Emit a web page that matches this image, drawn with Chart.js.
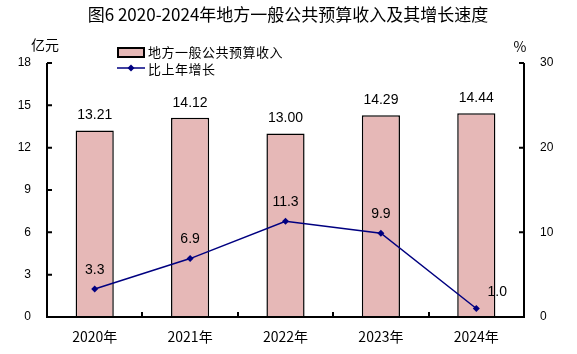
<!DOCTYPE html>
<html lang="zh">
<head>
<meta charset="UTF-8">
<title>地方一般公共预算收入</title>
<script src="https://cdn.jsdelivr.net/npm/chart.js"></script>
<style>
  html, body { margin: 0; padding: 0; background: #fff; }
  #wrap { width: 577px; height: 354px; position: relative; }
</style>
</head>
<body>
<div id="wrap"><canvas id="c" width="577" height="354"></canvas></div>
<script>
// data
const years = ['2020年', '2021年', '2022年', '2023年', '2024年'];
const revenue = [13.21, 14.12, 13.00, 14.29, 14.44];   // 亿元 (left axis)
const growth = [3.3, 6.9, 11.3, 9.9, 1.0];              // % (right axis)
const leftTicks = [0, 3, 6, 9, 12, 15, 18];
const rightTicks = [0, 10, 20, 30];

const FONT = '"Liberation Sans", Arial, sans-serif';
const CJK = '"Noto Sans CJK SC", "Liberation Sans", sans-serif';

// axis lines, inward tick marks, title, units, legend, value labels
const decor = {
  id: 'decor',
  afterDraw(chart) {
    const ctx = chart.ctx;
    const a = chart.chartArea;
    const yl = chart.scales.y, yr = chart.scales.y1;
    ctx.save();
    ctx.strokeStyle = '#000';
    ctx.lineWidth = 2;
    ctx.beginPath();
    ctx.moveTo(a.left, a.top); ctx.lineTo(a.left, a.bottom); ctx.lineTo(a.right, a.bottom); ctx.lineTo(a.right, a.top);
    leftTicks.forEach(v => { const p = yl.getPixelForValue(v); ctx.moveTo(a.left, p); ctx.lineTo(a.left + 5, p); });
    rightTicks.forEach(v => { const p = yr.getPixelForValue(v); ctx.moveTo(a.right, p); ctx.lineTo(a.right - 5, p); });
    const step = (a.right - a.left) / years.length;
    for (let i = 1; i < years.length; i++) {
      const px = Math.round(a.left + step * i);
      ctx.moveTo(px, a.bottom); ctx.lineTo(px, a.bottom - 5);
    }
    ctx.stroke();

    // title
    ctx.fillStyle = '#000';
    ctx.textAlign = 'center';
    ctx.textBaseline = 'middle';
    ctx.font = '17px ' + CJK;
    ctx.fillText('图6 2020-2024年地方一般公共预算收入及其增长速度', 288, 15);

    // units
    ctx.font = '14px ' + CJK;
    ctx.fillText('亿元', 45, 45);
    ctx.fillText('%', 520, 47);

    // legend
    const bds = chart.data.datasets[0], lds = chart.data.datasets[1];
    ctx.fillStyle = bds.backgroundColor;
    ctx.fillRect(118, 48, 26, 9);
    ctx.lineWidth = 2;
    ctx.strokeRect(118, 48, 26, 9);
    ctx.strokeStyle = lds.borderColor;
    ctx.lineWidth = 1.5;
    ctx.beginPath(); ctx.moveTo(117, 68); ctx.lineTo(145, 68); ctx.stroke();
    ctx.fillStyle = lds.borderColor;
    ctx.beginPath(); ctx.moveTo(131, 64.5); ctx.lineTo(134.5, 68); ctx.lineTo(131, 71.5); ctx.lineTo(127.5, 68); ctx.closePath(); ctx.fill();
    ctx.fillStyle = '#000';
    ctx.textAlign = 'left';
    ctx.font = '13px ' + CJK;
    if ('letterSpacing' in ctx) ctx.letterSpacing = '0.5px';
    ctx.fillText('地方一般公共预算收入', 148, 52);
    ctx.fillText('比上年增长', 148, 69);
    if ('letterSpacing' in ctx) ctx.letterSpacing = '0px';

    // value labels
    ctx.textAlign = 'center';
    ctx.font = '14px ' + FONT;
    chart.getDatasetMeta(0).data.forEach((el, i) => {
      ctx.fillText(revenue[i].toFixed(2), el.x, el.y - 15);
    });
    chart.getDatasetMeta(1).data.forEach((el, i) => {
      const dx = i === years.length - 1 ? 21 : 0;
      const dy = i === years.length - 1 ? -16 : -19;
      ctx.fillText(growth[i].toFixed(1), el.x + dx, el.y + dy);
    });
    ctx.restore();
  }
};

new Chart(document.getElementById('c'), {
  data: {
    labels: years,
    datasets: [
      {
        type: 'bar',
        label: '地方一般公共预算收入',
        data: revenue,
        yAxisID: 'y',
        backgroundColor: '#E6B8B7',
        borderColor: '#000',
        borderWidth: 1.5,
        categoryPercentage: 1,
        barPercentage: 0.4,
        order: 2
      },
      {
        type: 'line',
        label: '比上年增长',
        data: growth,
        yAxisID: 'y1',
        borderColor: '#000080',
        backgroundColor: '#000080',
        borderWidth: 1.5,
        pointStyle: 'rectRot',
        pointRadius: 3.5,
        pointBorderWidth: 0,
        tension: 0,
        order: 1
      }
    ]
  },
  options: {
    responsive: false,
    animation: false,
    devicePixelRatio: 1,
    layout: { padding: { top: 63, left: 0, right: 0, bottom: 0 } },
    plugins: {
      legend: { display: false },
      title: { display: false },
      tooltip: { enabled: false }
    },
    scales: {
      x: {
        grid: { display: false },
        border: { display: false },
        ticks: { color: '#000', font: { family: CJK, size: 14 }, padding: 3 },
        afterFit(s) { s.height = 37; }
      },
      y: {
        position: 'left',
        min: 0, max: 18,
        grid: { display: false },
        border: { display: false },
        ticks: { stepSize: 3, color: '#000', font: { family: FONT, size: 12 }, padding: 8 },
        afterFit(s) { s.width = 47; }
      },
      y1: {
        position: 'right',
        min: 0, max: 30,
        grid: { display: false },
        border: { display: false },
        ticks: { stepSize: 10, color: '#000', font: { family: FONT, size: 12 }, padding: 8 },
        afterFit(s) { s.width = 53; }
      }
    }
  },
  plugins: [decor]
});
</script>
</body>
</html>
